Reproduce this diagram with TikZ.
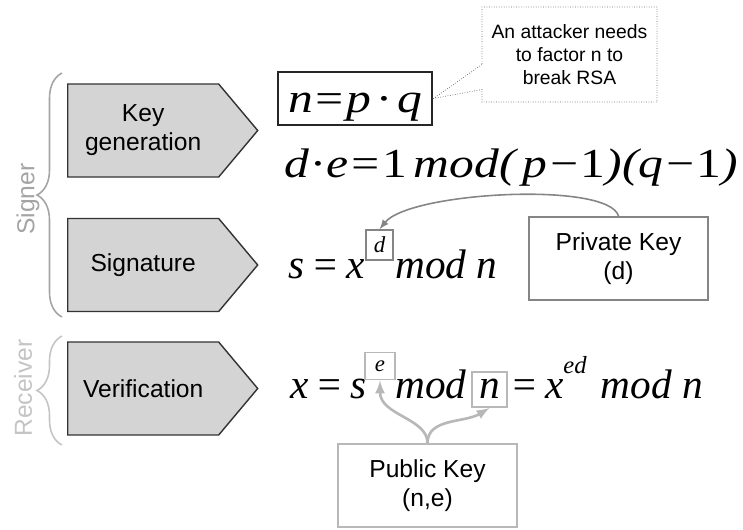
\documentclass[tikz,border=0pt]{standalone}
\usepackage{fontspec}
\setmainfont{Liberation Sans}
\newfontfamily\eqfont{Liberation Serif}
\newfontfamily\eqwide[FakeStretch=1.2]{Liberation Serif}
\usetikzlibrary{shapes.symbols,shapes.callouts,decorations.pathreplacing}
\definecolor{stagefill}{HTML}{D4D4D4}
\definecolor{privgray}{HTML}{858585}
\definecolor{pubgray}{HTML}{B8B8B8}
\definecolor{signgray}{HTML}{A4A4A4}
\definecolor{recvgray}{HTML}{C4C4C4}
\begin{document}
\begin{tikzpicture}\tikzstyle{every node}=[font=\fontsize{14}{16.5}\selectfont]
\tikzstyle{stage}=[signal, signal to=east, signal pointer angle=100, draw=black!80, fill=stagefill, line width=0.8pt, minimum width=3.8cm, minimum height=1.86cm, align=center, anchor=west]
\tikzstyle{formula}=[font=\eqfont\fontsize{23.5}{28}\selectfont\itshape, inner sep=0pt, anchor=base west]
\tikzstyle{wideformula}=[font=\eqwide\fontsize{23.5}{28}\selectfont\itshape, inner sep=0pt, anchor=base west]
\tikzstyle{supbox}=[font=\eqfont\fontsize{13}{15}\selectfont\itshape, inner sep=0pt]
\tikzstyle{keybox}=[draw, line width=1.1pt, minimum width=3.58cm, minimum height=1.66cm, align=center]
\tikzstyle{bracket}=[decorate, decoration={brace, amplitude=0.5cm}, line width=0.9pt]
\useasboundingbox (0,0) rectangle (14.86,-10.58);
\node[stage] (keygen) at (1.34,-2.61) {Key\\generation};
\node[stage] (sign) at (1.34,-5.30) {Signature};
\node[stage] (verif) at (1.34,-7.77) {Verification};
%%%%%%%%%%%%%
\draw[bracket, signgray] (1.24,-6.34) -- (1.24,-1.46);
\draw[bracket, recvgray] (1.24,-8.90) -- (1.24,-6.72);
\node[rotate=90, signgray] (signer) at (0.56,-3.98) {Signer};
\node[rotate=90, recvgray] (receiver) at (0.46,-7.76) {Receiver};
%%%%%%%%%%%%%
\node[wideformula, anchor=center, draw=black!85, line width=1.6pt, minimum width=3.08cm, minimum height=1.06cm, text height=0.7cm, text depth=0.16cm] (npq) at (7.10,-1.97) {n=p\,·\,q\hspace{0.3cm}};
\node[wideformula] (dek) at (5.68,-3.54) {d\kern1.5pt·\kern1.5pt e=\textup{1}\,mod(\,p−\textup{1})(q−\textup{1})};
\node[formula] (sigA) at (5.76,-5.56) {s\,=\,x};
\node[supbox, draw=privgray, line width=0.8pt, minimum width=0.54cm, minimum height=0.6cm] (dbox) at (7.59,-4.90) {d};
\node[formula] (sigB) at (7.90,-5.56) {mod n};
\node[formula] (verA) at (5.80,-7.96) {x\,=\,s};
\node[supbox, draw=pubgray, line width=1.1pt, minimum width=0.6cm, minimum height=0.54cm] (ebox) at (7.60,-7.32) {e};
\node[formula] (verB) at (7.90,-7.96) {mod};
\node[formula, anchor=center, draw=pubgray, line width=1.1pt, minimum width=0.7cm, minimum height=0.7cm, text height=0.42cm, text depth=0.08cm] (nbox) at (9.79,-7.79) {n};
\node[formula] (verC) at (10.20,-7.96) {=\,x\raisebox{0.6em}{\fontsize{14}{16}\selectfont ed}\hspace{0.28cm}mod n};
%%%%%%%%%%%%%
\node[rectangle callout, draw=black!60, densely dotted, fill=white, minimum width=3.5cm, minimum height=1.9cm, align=center, callout absolute pointer={(npq.east)}, callout pointer width=0.5cm, font=\fontsize{11}{13}\selectfont] (attack) at (11.39,-1.09) {An attacker needs\\to factor n to\\break RSA};
\node[keybox, draw=privgray] (pkey) at (12.37,-5.17) {Private Key\\(d)};
\node[keybox, draw=pubgray] (pubkey) at (8.55,-9.71) {Public Key\\(n,e)};
%%%%%%%%%%%%%
\draw[-latex, privgray, line width=0.9pt] (pkey.north) .. controls +(-0.2,0.7) and +(0.6,0.75) .. (dbox.north);
\draw[-latex, pubgray, line width=1.5pt] (pubkey.north) .. controls +(0,0.5) and +(0,-0.7) .. (ebox.south);
\draw[-latex, pubgray, line width=1.5pt] (pubkey.north) .. controls +(0,0.5) and +(-0.5,-0.3) .. (nbox.south);
\end{tikzpicture}
\end{document}
